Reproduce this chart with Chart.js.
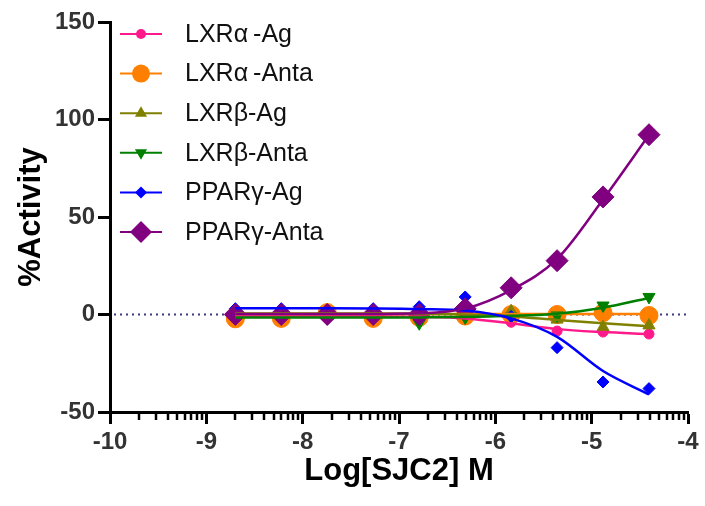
<!DOCTYPE html>
<html>
<head>
<meta charset="utf-8">
<script src="https://cdn.jsdelivr.net/npm/chart.js@4/dist/chart.umd.min.js"></script>
<style>
  html, body { margin: 0; padding: 0; background: #fff; }
  #wrap { width: 705px; height: 506px; }
</style>
</head>
<body>
<div id="wrap"><canvas id="chart"></canvas></div>
<script>
// log10 of the molar SJC2 concentrations (3-fold dilution series)
const logDose = [-8.699, -8.222, -7.745, -7.268, -6.790, -6.313, -5.836, -5.359, -4.882, -4.405];

// measured % activity
const lxrAlphaAg = [-1, -1.5, -1, -1, -1, -1, -4, -8.5, -9, -10];
const lxrAlphaAnta = [-2.2, -2, 1, -2, -1.5, -0.8, 0, 0, 0.9, -0.5];
const lxrBetaAg = [0.5, 0.5, 0.5, 0.5, 0.5, 0.5, 1.7, -2.6, -6.5, -5.6];
const lxrBetaAnta = [-1.5, -1.5, -1.5, -1.5, -4.5, -1.5, -1, -0.5, 4.6, 9];
const pparGammaAg = [3, 3, 2, 3, 4, 9, -1, -17, -34.6, -38];
const pparGammaAnta = [0, 0, 0, 0, 0, 2.9, 13.7, 27.6, 60.3, 92.2];

// fitted dose-response curves, evaluated at the same doses
const lxrAlphaAgFit = [-0.8, -0.8, -0.8, -0.9, -1.2, -2, -4.5, -7.5, -9, -10];
const lxrAlphaAntaFit = [0.2, 0.2, 0.2, 0.2, 0.2, 0.2, 0.2, 0.2, 0.2, 0.2];
const lxrBetaAgFit = [0.5, 0.5, 0.5, 0.5, 0.4, 0, -1, -2.8, -4.5, -6];
const lxrBetaAntaFit = [-1.6, -1.6, -1.6, -1.6, -1.5, -1.3, -0.7, 0.4, 3.5, 8.5];
const pparGammaAgFit = [3.2, 3.2, 3.2, 3.1, 2.8, 2, -2, -11.5, -29, -41];
const pparGammaAntaFit = [0.2, 0.2, 0.2, 0.3, 0.6, 3, 12.5, 28.5, 59, 92];

const xTicks = [-10, -9, -8, -7, -6, -5, -4];
const yTicks = [-50, 0, 50, 100, 150];

const series = [
  { label: "LXR\u03b1\u2009-Ag", color: "#ff1a8c", values: lxrAlphaAg, fit: lxrAlphaAgFit, style: "circle", radius: 5 },
  { label: "LXR\u03b1\u2009-Anta", color: "#ff8000", values: lxrAlphaAnta, fit: lxrAlphaAntaFit, style: "circle", radius: 9 },
  { label: "LXR\u03b2-Ag", color: "#808000", values: lxrBetaAg, fit: lxrBetaAgFit, style: "triangle", radius: 7 },
  { label: "LXR\u03b2-Anta", color: "#008000", values: lxrBetaAnta, fit: lxrBetaAntaFit, style: "triangle", radius: 7, rotation: 180 },
  { label: "PPAR\u03b3-Ag", color: "#0000ff", values: pparGammaAg, fit: pparGammaAgFit, style: "rectRot", radius: 6 },
  { label: "PPAR\u03b3-Anta", color: "#800080", values: pparGammaAnta, fit: pparGammaAntaFit, style: "rectRot", radius: 11 },
];

const toXY = (ys) => ys.map((y, i) => ({ x: logDose[i], y }));

const datasets = [];
series.forEach((s, i) => {
  datasets.push({
    label: s.label,
    data: toXY(s.values),
    showLine: false,
    pointStyle: s.style,
    pointRotation: s.rotation || 0,
    pointRadius: s.radius,
    pointBackgroundColor: s.color,
    pointBorderColor: s.color,
    pointBorderWidth: 1,
    order: 20 - i,
  });
  datasets.push({
    label: s.label + " fit",
    data: toXY(s.fit),
    showLine: true,
    cubicInterpolationMode: "monotone",
    borderColor: s.color,
    borderWidth: 2.5,
    pointRadius: 0,
    order: 10 - i,
  });
});

const FONT = "'Liberation Sans', Arial, sans-serif";

// dotted baseline at 0 %
const zeroLine = {
  id: "zeroLine",
  beforeDatasetsDraw(chart) {
    const { ctx, chartArea } = chart;
    const y = chart.scales.y.getPixelForValue(0);
    ctx.save();
    ctx.strokeStyle = "#3a3a85";
    ctx.lineWidth = 2;
    ctx.setLineDash([2, 4]);
    ctx.beginPath();
    ctx.moveTo(chartArea.left + 4, y);
    ctx.lineTo(chartArea.right, y);
    ctx.stroke();
    ctx.restore();
  },
};

// log-spaced minor ticks between the decades
const minorTicks = {
  id: "minorTicks",
  afterDraw(chart) {
    const { ctx } = chart;
    const xs = chart.scales.x;
    const y0 = xs.top;
    ctx.save();
    ctx.strokeStyle = "#000";
    ctx.lineWidth = 2.5;
    for (let d = -10; d < -4; d++) {
      for (let k = 2; k <= 9; k++) {
        const px = Math.round(xs.getPixelForValue(d + Math.log10(k)));
        ctx.beginPath();
        ctx.moveTo(px, y0);
        ctx.lineTo(px, y0 + 8);
        ctx.stroke();
      }
    }
    ctx.restore();
  },
};

const drawMarker = (ctx, style, x, y, r, rotation) => {
  ctx.beginPath();
  if (style === "circle") {
    ctx.arc(x, y, r, 0, Math.PI * 2);
  } else if (style === "rectRot") {
    ctx.moveTo(x, y - r);
    ctx.lineTo(x + r, y);
    ctx.lineTo(x, y + r);
    ctx.lineTo(x - r, y);
  } else if (style === "triangle") {
    const s = rotation ? -1 : 1;
    ctx.moveTo(x, y - s * r);
    ctx.lineTo(x + r * 0.87, y + s * r * 0.5);
    ctx.lineTo(x - r * 0.87, y + s * r * 0.5);
  }
  ctx.closePath();
  ctx.fill();
};

// legend with line + symbol samples inside the plot
const seriesLegend = {
  id: "seriesLegend",
  afterDraw(chart) {
    const { ctx } = chart;
    ctx.save();
    ctx.font = "25px " + FONT;
    ctx.textBaseline = "middle";
    series.forEach((s, i) => {
      const y = 34 + i * 39.6;
      ctx.strokeStyle = s.color;
      ctx.fillStyle = s.color;
      ctx.lineWidth = 2;
      ctx.beginPath();
      ctx.moveTo(120, y);
      ctx.lineTo(162, y);
      ctx.stroke();
      drawMarker(ctx, s.style, 141, y, s.radius, s.rotation);
      ctx.fillStyle = "#111";
      ctx.fillText(s.label, 185, y + 1);
    });
    ctx.restore();
  },
};

new Chart(document.getElementById("chart"), {
  type: "scatter",
  data: { datasets },
  plugins: [zeroLine, minorTicks, seriesLegend],
  options: {
    responsive: true,
    maintainAspectRatio: false,
    animation: false,
    layout: { padding: { top: 22, right: 17, left: 0, bottom: 0 } },
    plugins: {
      legend: { display: false },
      tooltip: { enabled: false },
    },
    scales: {
      x: {
        type: "linear",
        min: -10,
        max: -4,
        afterBuildTicks: (scale) => {
          scale.ticks = xTicks.map((v) => ({ value: v }));
        },
        afterFit: (scale) => {
          scale.height = 94;
        },
        border: { display: true, color: "#000", width: 3 },
        grid: {
          drawOnChartArea: false,
          drawTicks: true,
          tickLength: 12,
          tickWidth: 3,
          tickColor: "#000",
        },
        ticks: {
          color: "#333",
          padding: 4,
          maxRotation: 0,
          font: { family: FONT, size: 24, weight: "bold" },
          callback: (v) => String(v),
        },
        title: {
          display: true,
          text: "Log[SJC2] M",
          color: "#000",
          font: { family: FONT, size: 31, weight: "bold" },
          padding: { bottom: 16 },
        },
      },
      y: {
        type: "linear",
        min: -50,
        max: 150,
        afterBuildTicks: (scale) => {
          scale.ticks = yTicks.map((v) => ({ value: v }));
        },
        afterFit: (scale) => {
          scale.width = 110;
        },
        border: { display: true, color: "#000", width: 3 },
        grid: {
          drawOnChartArea: false,
          drawTicks: true,
          tickLength: 12,
          tickWidth: 3,
          tickColor: "#000",
        },
        ticks: {
          color: "#333",
          padding: 3,
          font: { family: FONT, size: 24, weight: "bold" },
        },
        title: {
          display: true,
          text: "%Activity",
          color: "#000",
          font: { family: FONT, size: 31, weight: "bold" },
          padding: { top: 13 },
        },
      },
    },
  },
});
</script>
</body>
</html>
